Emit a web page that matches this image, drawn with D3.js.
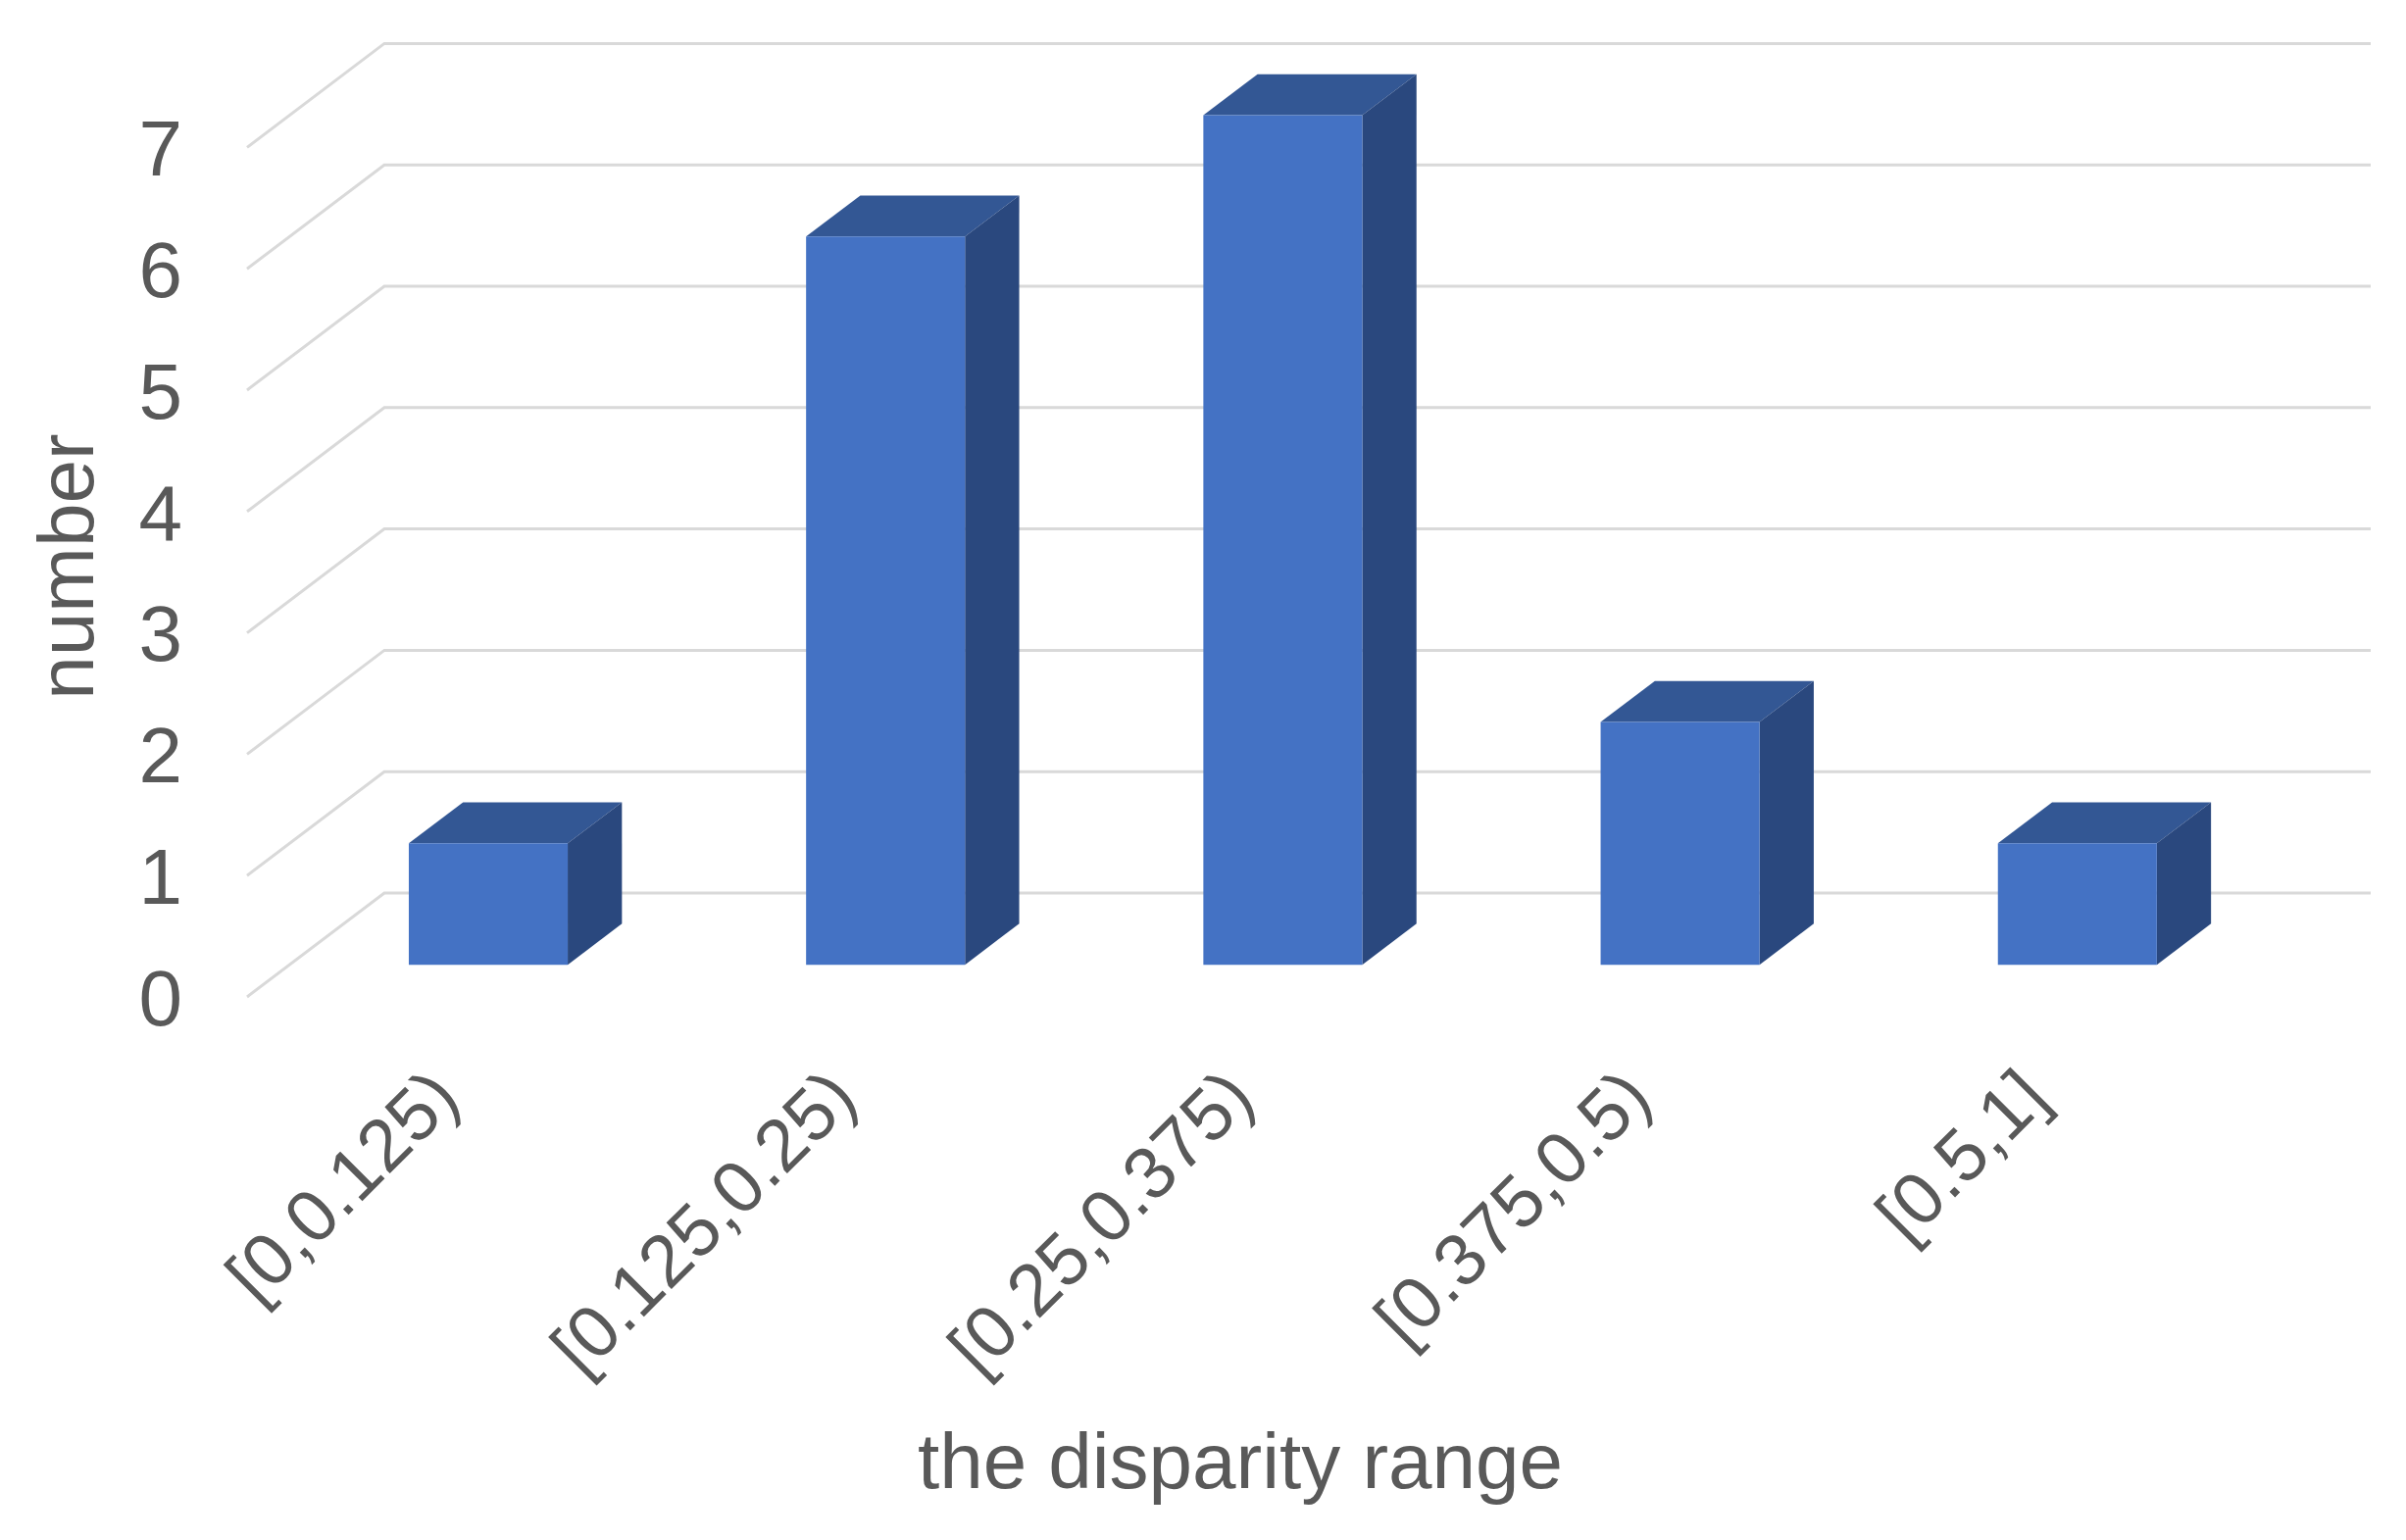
<!DOCTYPE html>
<html>
<head>
<meta charset="utf-8">
<script src="https://cdn.jsdelivr.net/npm/d3@7"></script>
<style>
  body { margin: 0; background: #fff; }
  text { font-family: "Liberation Sans", Arial, sans-serif; fill: #595959; }
</style>
</head>
<body>
<svg id="chart" width="2454" height="1571"></svg>
<script>
// data
var categories = ["[0,0.125)", "[0.125,0.25)", "[0.25,0.375)", "[0.375,0.5)", "[0.5,1]"];
var counts = [1, 6, 7, 2, 1];
var yTicks = [0, 1, 2, 3, 4, 5, 6, 7];

var svg = d3.select("#chart");

// floor front edge and depth vector of the 3d box
var floorLeft = 252, floorRight = 2278, floorY = 1017;
var depthX = 140, depthY = -106;
var barFront = 0.31, barBack = 0.705;   // depth fractions of bars

var x = d3.scaleBand()
  .domain(categories)
  .range([floorLeft, floorRight])
  .paddingInner(0.6)
  .paddingOuter(0.3);

var y = d3.scaleLinear()
  .domain([0, 7])
  .range([floorY, floorY - 7 * 123.8]);

function pt(px, py, f) { return [px + f * depthX, py + f * depthY]; }

// gridlines: side wall diagonal + back wall
svg.append("g").selectAll("path")
  .data(yTicks)
  .enter()
  .append("path")
  .attr("d", function(d) {
    var a = [floorLeft, y(d)], b = pt(floorLeft, y(d), 1);
    return "M" + a + "L" + b + "L" + (floorRight + depthX) + "," + b[1];
  })
  .attr("fill", "none")
  .attr("stroke", "#d9d9d9")
  .attr("stroke-width", 3);

// y tick labels
svg.append("g").selectAll("text")
  .data(yTicks)
  .enter()
  .append("text")
  .attr("x", 186)
  .attr("y", function(d) { return y(d); })
  .attr("dy", "0.36em")
  .attr("text-anchor", "end")
  .style("font-size", "80px")
  .text(function(d) { return d; });

// bars
var bars = svg.append("g").selectAll("g")
  .data(categories)
  .enter()
  .append("g");

function poly(pts) { return "M" + pts.join("L") + "Z"; }

bars.append("path")   // top face
  .attr("d", function(d, i) {
    var x0 = x(d), x1 = x(d) + x.bandwidth(), t = y(counts[i]);
    return poly([pt(x0, t, barFront), pt(x1, t, barFront), pt(x1, t, barBack), pt(x0, t, barBack)]);
  })
  .attr("fill", "#335794");

bars.append("path")   // right face
  .attr("d", function(d, i) {
    var x1 = x(d) + x.bandwidth(), t = y(counts[i]), b = y(0);
    return poly([pt(x1, t, barFront), pt(x1, t, barBack), pt(x1, b, barBack), pt(x1, b, barFront)]);
  })
  .attr("fill", "#2a487e");

bars.append("path")   // front face
  .attr("d", function(d, i) {
    var x0 = x(d), x1 = x(d) + x.bandwidth(), t = y(counts[i]), b = y(0);
    return poly([pt(x0, t, barFront), pt(x1, t, barFront), pt(x1, b, barFront), pt(x0, b, barFront)]);
  })
  .attr("fill", "#4472c4");

// x tick labels, rotated
svg.append("g").selectAll("text")
  .data(categories)
  .enter()
  .append("text")
  .attr("transform", function(d) {
    return "translate(" + (x(d) + x.bandwidth() / 2 - 2) + ",1104) rotate(-45)";
  })
  .attr("dy", "0.36em")
  .attr("text-anchor", "end")
  .style("font-size", "75px")
  .text(function(d) { return d; });

// axis titles
svg.append("text")
  .attr("x", (floorLeft + floorRight) / 2)
  .attr("y", 1518)
  .attr("text-anchor", "middle")
  .style("font-size", "80px")
  .text("the disparity range");

svg.append("text")
  .attr("transform", "translate(95,578) rotate(-90)")
  .attr("text-anchor", "middle")
  .style("font-size", "80px")
  .text("number");
</script>
</body>
</html>
